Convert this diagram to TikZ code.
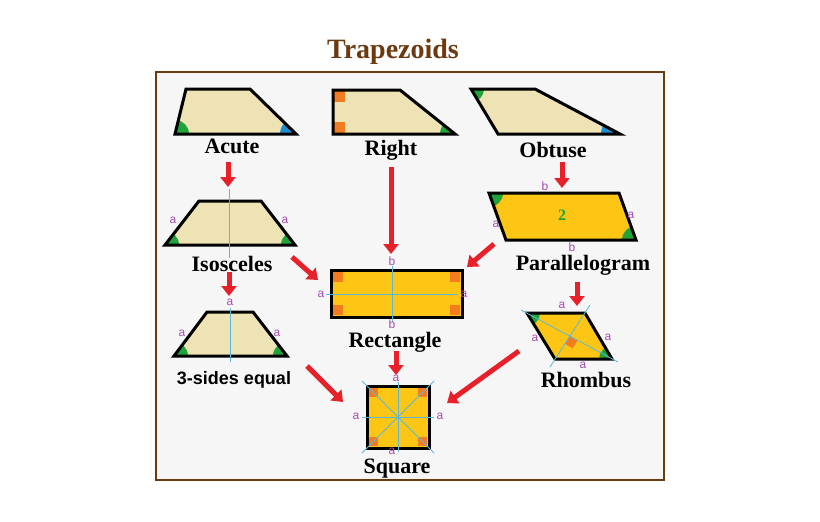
\documentclass[tikz,border=0pt]{standalone}
\usepackage{fontspec}
\setmainfont{Liberation Serif}
\setsansfont{Liberation Sans}
\usetikzlibrary{arrows.meta}
\definecolor{beige}{HTML}{EEE3B5}
\definecolor{gold}{HTML}{FDC614}
\definecolor{ggreen}{HTML}{1FA33A}
\definecolor{bblue}{HTML}{1E8FD0}
\definecolor{oor}{HTML}{F47C20}
\definecolor{purp}{HTML}{A64CB0}
\definecolor{lblue}{HTML}{5BB8D8}
\definecolor{rred}{HTML}{E8202A}
\definecolor{brn}{HTML}{6B3A10}
\tikzset{
 shp/.style={draw=black,line width=3pt,line join=miter},
 lab/.style={font=\bfseries\fontsize{22}{22}\selectfont},
 sm/.style={font=\sffamily\fontsize{12}{12}\selectfont,text=purp,inner sep=0pt},
 axis/.style={draw=lblue,line width=0.8pt},
 arr/.style={draw=rred,line width=5pt,-{Triangle[width=15pt,length=10pt]}},
 rt/.style={fill=oor},
}
\begin{document}
\begin{tikzpicture}[x=1pt,y=-1pt]
\fill[white] (0,0) rectangle (820,522);
\useasboundingbox (0,0) rectangle (820,522);
\draw[brn,line width=2pt,fill={rgb,255:red,246;green,246;blue,246}] (156,72) rectangle (664,480);
\node[text=brn,font=\bfseries\fontsize{28}{28}\selectfont] (title) at (393,52) {Trapezoids};
% Acute
\begin{scope}\clip (186,89)--(250,89)--(296,134)--(175,134)--cycle;
\fill[beige] (150,80) rectangle (300,140);
\fill[ggreen] (175,134) circle (14); \fill[bblue] (296,134) circle (16);
\end{scope}
\draw[shp] (186,89)--(250,89)--(296,134)--(175,134)--cycle;
\node[lab] (acute) at (232,146) {Acute};
% Right
\begin{scope}\clip (333,90)--(400,90)--(455,134)--(333,134)--cycle;
\fill[beige] (320,80) rectangle (460,140);
\fill[ggreen] (455,134) circle (15);
\fill[rt] (333,90) rectangle (345,102); \fill[rt] (333,134) rectangle (345,122);
\end{scope}
\draw[shp] (333,90)--(400,90)--(455,134)--(333,134)--cycle;
\node[lab] (right) at (391,150) {Right};
% Obtuse
\begin{scope}\clip (471,89)--(535,89)--(620,134)--(498,134)--cycle;
\fill[beige] (460,80) rectangle (630,140);
\fill[ggreen] (471,89) circle (13); \fill[bblue] (620,134) circle (19);
\end{scope}
\draw[shp] (471,89)--(535,89)--(620,134)--(498,134)--cycle;
\node[lab] (obtuse) at (553,150) {Obtuse};
% Isosceles
\begin{scope}\clip (199,201)--(261,201)--(295,245)--(165,245)--cycle;
\fill[beige] (160,195) rectangle (300,250);
\fill[ggreen] (165,245) circle (14); \fill[ggreen] (295,245) circle (14);
\end{scope}
\draw[shp] (199,201)--(261,201)--(295,245)--(165,245)--cycle;
\draw[axis] (229,189)--(229,258);
\node[sm] at (173,220) {a}; \node[sm] at (285,220) {a};
\node[lab] (isos) at (232,264) {Isosceles};
% Parallelogram
\begin{scope}\clip (489,193)--(619,193)--(636,240)--(506,240)--cycle;
\fill[gold] (480,190) rectangle (640,245);
\fill[ggreen] (489,193) circle (14); \fill[ggreen] (636,240) circle (14);
\end{scope}
\draw[shp] (489,193)--(619,193)--(636,240)--(506,240)--cycle;
\node[text=ggreen,font=\bfseries\fontsize{16}{16}\selectfont] at (562,215) {2};
\node[sm] at (545,186) {b}; \node[sm] at (572,247) {b};
\node[sm] at (496,224) {a}; \node[sm] at (631,215) {a};
\node[lab] (para) at (583,265) {Parallelogram};
% Rectangle
\fill[gold] (331,270) rectangle (462,317);
\fill[rt] (333,272) rectangle (343,282); \fill[rt] (460,272) rectangle (450,282);
\fill[rt] (333,315) rectangle (343,305); \fill[rt] (460,315) rectangle (450,305);
\draw[shp] (331,270) rectangle (462,317);
\draw[axis] (326,294)--(458,294); \draw[axis] (392,266)--(392,322);
\node[sm] at (392,261) {b}; \node[sm] at (392,324) {b};
\node[lab] (rect) at (395,342) {Rectangle};
\node[sm] at (321,294) {a}; \node[sm] at (464,294) {a};
% 3-sides equal
\begin{scope}\clip (207,312)--(253,312)--(287,356)--(174,356)--cycle;
\fill[beige] (170,305) rectangle (290,360);
\fill[ggreen] (174,356) circle (14); \fill[ggreen] (287,356) circle (14);
\end{scope}
\draw[shp] (207,312)--(253,312)--(287,356)--(174,356)--cycle;
\draw[axis] (230,308)--(230,362);
\node[sm] at (230,302) {a}; \node[sm] at (182,333) {a}; \node[sm] at (277,333) {a};
\node[font=\sffamily\bfseries\fontsize{18}{18}\selectfont] (three) at (234,380) {3-sides equal};
% Rhombus
\begin{scope}\clip (527,313)--(585,313)--(612,359)--(555,359)--cycle;
\fill[gold] (520,305) rectangle (620,365);
\fill[ggreen] (527,313) circle (13); \fill[ggreen] (612,359) circle (13);
\begin{scope}[shift={(569.5,336)},rotate=-30]\fill[rt] (0,0) rectangle (9,9);\end{scope}
\end{scope}
\draw[shp] (527,313)--(585,313)--(612,359)--(555,359)--cycle;
\draw[axis] (521,310)--(618,362); \draw[axis] (590,305)--(550,367);
\node[sm] at (562,305) {a}; \node[sm] at (535,338) {a};
\node[sm] at (608,337) {a}; \node[sm] at (583,365) {a};
\node[lab] (rhomb) at (586,380) {Rhombus};
% Square
\fill[gold] (367,386) rectangle (429,448);
\fill[rt] (369,388) rectangle (378,397); \fill[rt] (427,388) rectangle (418,397);
\fill[rt] (369,446) rectangle (378,437); \fill[rt] (427,446) rectangle (418,437);
\draw[shp] (367,386) rectangle (429,448);
\draw[axis] (362,417)--(434,417); \draw[axis] (398,382)--(398,452);
\draw[axis] (362,381)--(434,453); \draw[axis] (434,381)--(362,453);
\node[sm] at (396,378) {a}; \node[sm] at (392,451) {a};
\node[sm] at (356,416) {a}; \node[sm] at (440,416) {a};
\node[lab] (square) at (397,469) {Square};
% arrows
\coordinate (a1) at (228,162); \coordinate (a2) at (228,187);
\coordinate (b1) at (391,167); \coordinate (b2) at (391,254);
\coordinate (c1) at (562,162); \coordinate (c2) at (562,188);
\coordinate (d1) at (292,257); \coordinate (d2) at (318,280);
\coordinate (e1) at (494,244); \coordinate (e2) at (467,267);
\coordinate (f1) at (229,272); \coordinate (f2) at (229,296);
\coordinate (g1) at (577,282); \coordinate (g2) at (577,306);
\coordinate (h1) at (396,351); \coordinate (h2) at (396,375);
\coordinate (i1) at (307,366); \coordinate (i2) at (343,402);
\coordinate (j1) at (519,351); \coordinate (j2) at (447,403);
\foreach \s/\t in {a1/a2,b1/b2,c1/c2,d1/d2,e1/e2,f1/f2,g1/g2,h1/h2,i1/i2,j1/j2}
  \draw[arr] (\s)--(\t);
\end{tikzpicture}
\end{document}
